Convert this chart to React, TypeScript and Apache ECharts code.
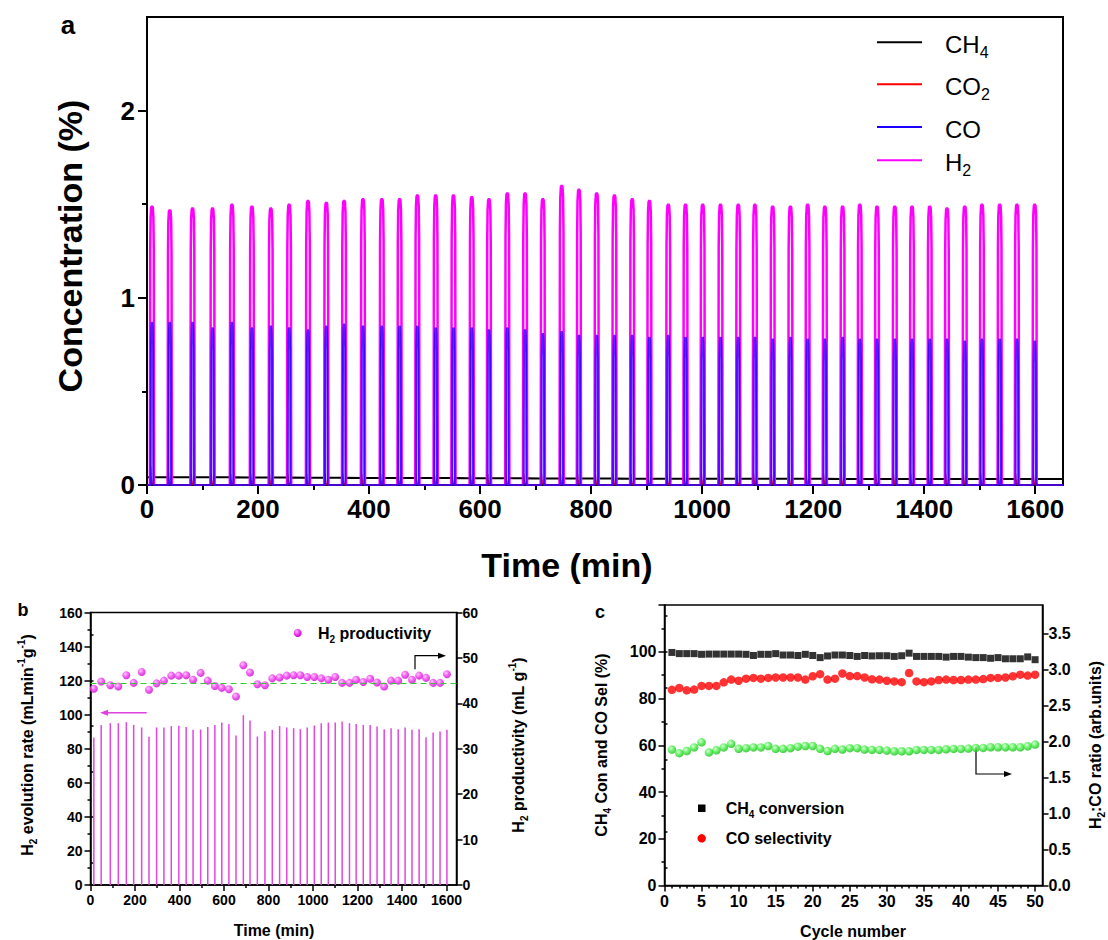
import React, { useEffect, useRef } from "react";
import * as echarts from "echarts";

const FONT = "Arial, 'Liberation Sans', Helvetica, sans-serif";

// ---------- panel a : concentration vs time ----------
const pulseTimes = [9, 41, 82, 118, 153, 189, 223, 256, 290, 323, 355, 389, 423, 455, 487, 520, 552, 585, 616, 649, 681, 713, 747, 778, 810, 842, 874, 905, 939, 970, 1001, 1033, 1065, 1095, 1127, 1159, 1190, 1221, 1253, 1284, 1315, 1347, 1378, 1410, 1441, 1473, 1504, 1536, 1567, 1599];
const h2Peaks = [1.49, 1.47, 1.48, 1.48, 1.5, 1.49, 1.48, 1.5, 1.52, 1.51, 1.52, 1.53, 1.53, 1.53, 1.55, 1.55, 1.55, 1.54, 1.53, 1.56, 1.56, 1.53, 1.6, 1.58, 1.56, 1.55, 1.53, 1.52, 1.5, 1.5, 1.5, 1.5, 1.5, 1.5, 1.49, 1.49, 1.5, 1.49, 1.49, 1.5, 1.49, 1.49, 1.49, 1.49, 1.48, 1.49, 1.5, 1.5, 1.5, 1.5];
const coPeaks = [0.87, 0.87, 0.87, 0.84, 0.87, 0.84, 0.85, 0.84, 0.83, 0.85, 0.86, 0.85, 0.85, 0.85, 0.85, 0.84, 0.84, 0.84, 0.83, 0.84, 0.83, 0.81, 0.82, 0.8, 0.8, 0.8, 0.8, 0.79, 0.8, 0.79, 0.79, 0.79, 0.79, 0.79, 0.78, 0.79, 0.78, 0.78, 0.79, 0.78, 0.78, 0.78, 0.78, 0.78, 0.78, 0.77, 0.78, 0.78, 0.78, 0.77];
const ch4Levels = [0.042, 0.042, 0.041, 0.041, 0.041, 0.04, 0.04, 0.04, 0.039, 0.039, 0.039, 0.038, 0.038, 0.038, 0.037, 0.037, 0.037, 0.036, 0.036, 0.036, 0.036, 0.035, 0.035, 0.035, 0.035, 0.035, 0.034, 0.034, 0.034, 0.034, 0.034, 0.033, 0.033, 0.033, 0.033, 0.033, 0.033, 0.033, 0.032, 0.032, 0.032, 0.032, 0.032, 0.032, 0.032, 0.032, 0.032, 0.032, 0.032, 0.032];
const co2Peaks = [0.1, 0.07, 0.06, 0.06, 0.06, 0.06, 0.06, 0.06, 0.06, 0.06, 0.06, 0.06, 0.06, 0.06, 0.06, 0.06, 0.06, 0.06, 0.06, 0.06, 0.06, 0.06, 0.06, 0.06, 0.06, 0.06, 0.06, 0.06, 0.06, 0.06, 0.06, 0.06, 0.06, 0.06, 0.06, 0.06, 0.06, 0.06, 0.06, 0.06, 0.06, 0.06, 0.06, 0.06, 0.06, 0.06, 0.06, 0.06, 0.06, 0.06];
// shape of one pulse (minutes from peak, fraction of peak)
const h2PulseOffsets = [-3.8, -3.2, -2.5, -1.5, 0, 1.5, 2.5, 3.2, 3.8];
const h2PulseShape = [0, 0.85, 0.96, 0.995, 1, 0.995, 0.96, 0.85, 0];
const coPulseOffsets = [-2.4, -1.9, -1.3, -0.7, 0, 0.7, 1.3, 1.9, 2.4];
const coPulseShape = [0, 0.85, 0.96, 0.995, 1, 0.995, 0.96, 0.85, 0];
const ch4DipOffsets = [-3.6, -2.9, 2.9, 3.6];
const ch4DipShape = [1, 0.15, 0.15, 1];
const co2Offsets = [-3.6, -3.0, -2.2, -1.0, 3.6];
const co2Shape = [0, 1, 0.5, 0.15, 0];
const timeTicks = [0, 200, 400, 600, 800, 1000, 1200, 1400, 1600];
const timeMinor = [100, 300, 500, 700, 900, 1100, 1300, 1500];
const concTicks = [0, 1, 2];
const concMinor = [0.5, 1.5];

// ---------- panel b : H2 evolution rate / productivity ----------
const cycleTimes = [15, 48, 89, 125, 161, 194, 230, 263, 297, 330, 363, 397, 430, 461, 495, 527, 559, 590, 622, 654, 687, 717, 750, 784, 817, 850, 882, 913, 943, 974, 1006, 1037, 1069, 1100, 1131, 1164, 1194, 1226, 1257, 1288, 1320, 1351, 1383, 1414, 1445, 1477, 1508, 1540, 1571, 1602];
const h2Rate = [86.6, 94.0, 95.0, 95.0, 95.6, 94.0, 92.5, 87.0, 92.5, 92.5, 93.3, 93.5, 92.7, 91.1, 91.3, 92.7, 94.0, 95.4, 94.4, 87.8, 99.7, 96.6, 87.2, 90.3, 91.1, 93.3, 92.5, 92.1, 91.5, 92.5, 93.6, 95.0, 95.4, 95.4, 96.0, 95.0, 94.6, 94.0, 94.0, 93.1, 91.5, 92.1, 91.5, 92.5, 91.1, 91.5, 86.8, 89.5, 90.1, 91.1];
const h2Productivity = [43.2, 44.8, 44.0, 43.7, 46.2, 44.5, 46.9, 43.0, 44.4, 45.0, 46.1, 46.1, 46.2, 45.2, 46.7, 45.0, 43.8, 43.4, 43.1, 41.5, 48.4, 46.8, 44.2, 44.0, 45.5, 45.7, 46.1, 46.2, 46.2, 45.8, 45.8, 45.5, 45.2, 45.8, 44.5, 44.5, 45.2, 44.7, 45.4, 44.6, 43.7, 45.0, 45.0, 46.3, 45.2, 46.1, 45.6, 44.5, 44.5, 46.4];
const productivityMean = 44.4;
const bTimeTicks = [0, 200, 400, 600, 800, 1000, 1200, 1400, 1600];
const bTimeMinor = [100, 300, 500, 700, 900, 1100, 1300, 1500];
const rateTicks = [0, 20, 40, 60, 80, 100, 120, 140, 160];
const rateMinor = [10, 30, 50, 70, 90, 110, 130, 150];
const prodTicks = [0, 10, 20, 30, 40, 50, 60];
const prodMinor = [5, 15, 25, 35, 45, 55];

// ---------- panel c : conversion / selectivity / ratio ----------
const cycles = [1, 2, 3, 4, 5, 6, 7, 8, 9, 10, 11, 12, 13, 14, 15, 16, 17, 18, 19, 20, 21, 22, 23, 24, 25, 26, 27, 28, 29, 30, 31, 32, 33, 34, 35, 36, 37, 38, 39, 40, 41, 42, 43, 44, 45, 46, 47, 48, 49, 50];
const ch4Conversion = [99.7, 99.2, 99.2, 99.2, 98.9, 99.0, 99.0, 99.0, 99.0, 99.0, 98.9, 98.4, 98.9, 98.9, 99.2, 98.6, 98.6, 98.4, 98.9, 98.4, 97.5, 98.2, 98.6, 98.6, 98.4, 98.0, 98.4, 98.2, 98.3, 98.3, 98.0, 98.3, 99.4, 98.0, 98.0, 98.0, 98.0, 97.7, 98.0, 98.0, 97.7, 97.5, 97.5, 97.2, 97.5, 97.0, 97.0, 97.0, 97.8, 96.6];
const coSelectivity = [83.7, 84.5, 83.5, 83.8, 85.4, 85.4, 85.4, 86.9, 88.1, 87.6, 88.5, 88.8, 88.5, 88.8, 89.0, 89.0, 89.0, 89.0, 88.1, 89.5, 90.4, 88.1, 88.5, 90.7, 89.6, 89.6, 89.0, 88.2, 88.1, 87.6, 87.3, 87.0, 90.9, 87.3, 87.0, 87.3, 87.9, 88.1, 87.9, 87.9, 88.1, 88.1, 88.3, 88.8, 88.8, 89.0, 89.5, 90.2, 89.8, 90.2];
const h2CoRatio = [1.89, 1.84, 1.87, 1.92, 1.99, 1.85, 1.88, 1.92, 1.97, 1.9, 1.91, 1.92, 1.92, 1.94, 1.9, 1.9, 1.91, 1.93, 1.94, 1.94, 1.9, 1.87, 1.9, 1.89, 1.91, 1.91, 1.89, 1.885, 1.885, 1.876, 1.866, 1.866, 1.866, 1.885, 1.885, 1.885, 1.885, 1.894, 1.899, 1.899, 1.904, 1.913, 1.913, 1.922, 1.922, 1.922, 1.922, 1.922, 1.936, 1.959];
const cycleTicks = [0, 5, 10, 15, 20, 25, 30, 35, 40, 45, 50];
const cycleMinor = [1, 2, 3, 4, 6, 7, 8, 9, 11, 12, 13, 14, 16, 17, 18, 19, 21, 22, 23, 24, 26, 27, 28, 29, 31, 32, 33, 34, 36, 37, 38, 39, 41, 42, 43, 44, 46, 47, 48, 49];
const pctTicks = [0, 20, 40, 60, 80, 100];
const pctMinor = [10, 30, 50, 70, 90, 110];
const ratioTicks = [0, 0.5, 1, 1.5, 2, 2.5, 3, 3.5];
const ratioMinor = [0.25, 0.75, 1.25, 1.75, 2.25, 2.75, 3.25, 3.75];

// ---------- builders ----------
type Pt = [number, number | string];
function pulses(times: number[], peaks: number[], offs: number[], shape: number[], gaps: boolean): Pt[] {
  const out: Pt[] = [];
  times.forEach((t, i) => {
    offs.forEach((o, k) => out.push([t + o, +(peaks[i] * shape[k]).toFixed(4)]));
    if (gaps) out.push([t + offs[offs.length - 1] + 0.2, "-"]);
  });
  return out;
}
function ch4Trace(): Pt[] {
  const out: Pt[] = [[0, ch4Levels[0]]];
  pulseTimes.forEach((t, i) => {
    ch4DipOffsets.forEach((o, k) => out.push([t + o, +(ch4Levels[i] * ch4DipShape[k]).toFixed(4)]));
  });
  out.push([1650, ch4Levels[ch4Levels.length - 1]]);
  return out;
}
function withEnds(pts: Pt[]): Pt[] {
  return [[0, 0], ...pts, [1650, 0]];
}

const plain = (v: number) => String(v);

function valueAxes(o: any) {
  const common = {
    type: "value",
    gridIndex: o.grid,
    position: o.position,
    min: o.min,
    max: o.max,
    splitLine: { show: false },
  };
  const main = {
    ...common,
    axisLine: { show: true, onZero: false, lineStyle: { color: "#000", width: o.lw } },
    axisTick: { show: true, customValues: o.major, length: o.majorLen, lineStyle: { color: "#000", width: o.lw } },
    axisLabel: {
      show: true,
      customValues: o.labels || o.major,
      fontSize: o.fs,
      fontWeight: "bold",
      fontFamily: FONT,
      color: "#000",
      margin: o.margin,
      formatter: o.fmt || plain,
    },
  };
  const minor = {
    ...common,
    axisLine: { show: false },
    axisTick: { show: true, customValues: o.minor, length: o.minorLen, lineStyle: { color: "#000", width: o.lw } },
    axisLabel: { show: false },
  };
  return [main, minor];
}

function ballGradient(light: string, mid: string, dark: string) {
  return new echarts.graphic.RadialGradient(0.38, 0.35, 0.7, [
    { offset: 0, color: light },
    { offset: 0.45, color: mid },
    { offset: 1, color: dark },
  ]);
}

function txt(text: string, x: number, y: number, fs: number, bold: boolean, extra: any = {}) {
  return {
    type: "text",
    x,
    y,
    rotation: extra.rotation || 0,
    style: {
      text,
      fill: extra.fill || "#000",
      fontSize: fs,
      fontWeight: bold ? "bold" : "normal",
      fontFamily: FONT,
      align: extra.align || "center",
      verticalAlign: "middle",
      rich: extra.rich,
    },
  };
}
function richSet(fs: number, bold: boolean) {
  const w = bold ? "bold" : "normal";
  const small = Math.round(fs * 0.65);
  return {
    n: { fontSize: fs, fontWeight: w, fontFamily: FONT, lineHeight: Math.round(fs * 1.35) },
    s: { fontSize: small, fontWeight: w, fontFamily: FONT, lineHeight: small, verticalAlign: "bottom" },
    p: { fontSize: small, fontWeight: w, fontFamily: FONT, lineHeight: small, verticalAlign: "top" },
  };
}

export default function App() {
  const ref = useRef<HTMLDivElement>(null);
  useEffect(() => {
    document.body.style.margin = "0";
    const chart = echarts.init(ref.current!, null, { renderer: "svg" });

    const [ax, axm] = valueAxes({ grid: 0, position: "bottom", min: 0, max: 1650, major: timeTicks, minor: timeMinor, lw: 2, majorLen: 9, minorLen: 5, fs: 26, margin: 11 });
    const [ay, aym] = valueAxes({ grid: 0, position: "left", min: 0, max: 2.5, major: concTicks, minor: concMinor, lw: 2, majorLen: 9, minorLen: 5, fs: 26, margin: 12 });
    const [bx, bxm] = valueAxes({ grid: 1, position: "bottom", min: 0, max: 1645, major: bTimeTicks, minor: bTimeMinor, lw: 1.5, majorLen: 6, minorLen: 3, fs: 14, margin: 8 });
    const [byl, byml] = valueAxes({ grid: 1, position: "left", min: 0, max: 160, major: rateTicks, minor: rateMinor, lw: 1.5, majorLen: 6, minorLen: 3, fs: 14, margin: 8 });
    const [byr, bymr] = valueAxes({ grid: 1, position: "right", min: 0, max: 60, major: prodTicks, minor: prodMinor, lw: 1.5, majorLen: 6, minorLen: 3, fs: 14, margin: 6 });
    const [cx, cxm] = valueAxes({ grid: 2, position: "bottom", min: 0, max: 51, major: cycleTicks, minor: cycleMinor, lw: 1.5, majorLen: 6, minorLen: 3, fs: 16, margin: 8 });
    const [cyl, cyml] = valueAxes({ grid: 2, position: "left", min: 0, max: 120, major: [...pctTicks, 120], labels: pctTicks, minor: pctMinor, lw: 1.5, majorLen: 6, minorLen: 3, fs: 16, margin: 8 });
    const [cyr, cymr] = valueAxes({ grid: 2, position: "right", min: 0, max: 3.9, major: ratioTicks, minor: ratioMinor, lw: 1.5, majorLen: 6, minorLen: 3, fs: 16, margin: 6, fmt: (v: number) => v.toFixed(1) });

    const rA = richSet(24, false);
    const rAT = richSet(34, true);
    const rB = richSet(16, true);
    const rC = richSet(16, true);

    const magenta = "#ff00ff";
    const pinkBall = () => ballGradient("#ffc0ff", "#f040f0", "#c800c8");
    const greenBall = () => ballGradient("#d0ffd0", "#4cf04c", "#14b814");
    const option: any = {
      animation: false,
      backgroundColor: "#ffffff",
      grid: [
        { left: 147, top: 17, width: 916, height: 468, show: true, borderColor: "#000", borderWidth: 2, backgroundColor: "transparent" },
        { left: 90.5, top: 612.5, width: 366, height: 272.5, show: true, borderColor: "#000", borderWidth: 1.5, backgroundColor: "transparent" },
        { left: 664.5, top: 605, width: 378, height: 280.5, show: true, borderColor: "#000", borderWidth: 1.5, backgroundColor: "transparent" },
      ],
      xAxis: [ax, axm, bx, bxm, cx, cxm],
      yAxis: [ay, aym, byl, byml, byr, bymr, cyl, cyml, cyr, cymr],
      series: [
        // panel a
        { name: "CH4", type: "line", xAxisIndex: 0, yAxisIndex: 0, data: ch4Trace(), showSymbol: false, symbol: "none", lineStyle: { color: "#000", width: 2 } },
        { name: "CO2", type: "line", xAxisIndex: 0, yAxisIndex: 0, data: withEnds(pulses(pulseTimes, co2Peaks, co2Offsets, co2Shape, false)), showSymbol: false, symbol: "none", lineStyle: { color: "#ff0000", width: 2 } },
        { name: "H2", type: "line", xAxisIndex: 0, yAxisIndex: 0, data: pulses(pulseTimes, h2Peaks, h2PulseOffsets, h2PulseShape, true), showSymbol: false, symbol: "none", connectNulls: false, lineStyle: { color: magenta, width: 2.5 } },
        { name: "CO", type: "line", xAxisIndex: 0, yAxisIndex: 0, data: withEnds(pulses(pulseTimes, coPeaks, coPulseOffsets, coPulseShape, false)), showSymbol: false, symbol: "none", lineStyle: { color: "#1a00ff", width: 2, opacity: 0.8 } },
        // panel b
        { name: "H2 evolution rate", type: "bar", xAxisIndex: 2, yAxisIndex: 2, data: cycleTimes.map((t, i) => [t, h2Rate[i]]), barWidth: 1.5, itemStyle: { color: "#e246e2" } },
        {
          name: "H2 productivity", type: "scatter", xAxisIndex: 2, yAxisIndex: 4, data: cycleTimes.map((t, i) => [t, h2Productivity[i]]), symbol: "circle", symbolSize: 8,
          itemStyle: { color: pinkBall() },
          markLine: { silent: true, symbol: "none", label: { show: false }, lineStyle: { color: "#33cc33", type: [6, 4], width: 1.2 }, data: [{ yAxis: productivityMean }] },
        },
        // panel c
        { name: "CH4 conversion", type: "scatter", xAxisIndex: 4, yAxisIndex: 6, data: cycles.map((c, i) => [c, ch4Conversion[i]]), symbol: "rect", symbolSize: 7, itemStyle: { color: "#000" } },
        { name: "CO selectivity", type: "scatter", xAxisIndex: 4, yAxisIndex: 6, data: cycles.map((c, i) => [c, coSelectivity[i]]), symbol: "circle", symbolSize: 8.5, itemStyle: { color: "#ff0000" } },
        { name: "H2:CO ratio", type: "scatter", xAxisIndex: 4, yAxisIndex: 8, data: cycles.map((c, i) => [c, h2CoRatio[i]]), symbol: "circle", symbolSize: 8.5, itemStyle: { color: greenBall() } },
      ],
      graphic: [
        // panel a labels
        txt("a", 68, 25, 26, true),
        txt("{n|Concentration (%)}", 70, 246, 34, true, { rotation: Math.PI / 2, rich: rAT }),
        txt("{n|Time (min)}", 567, 565, 34, true, { rich: rAT }),
        // panel a legend
        { type: "line", shape: { x1: 877, y1: 42.3, x2: 922, y2: 42.3 }, style: { stroke: "#000", lineWidth: 2 } },
        { type: "line", shape: { x1: 877, y1: 84.3, x2: 922, y2: 84.3 }, style: { stroke: "#ff0000", lineWidth: 2 } },
        { type: "line", shape: { x1: 877, y1: 127, x2: 922, y2: 127 }, style: { stroke: "#1a00ff", lineWidth: 2 } },
        { type: "line", shape: { x1: 877, y1: 160.3, x2: 922, y2: 160.3 }, style: { stroke: magenta, lineWidth: 2 } },
        txt("{n|CH}{s|4}", 945, 44, 24, false, { align: "left", rich: rA }),
        txt("{n|CO}{s|2}", 945, 86, 24, false, { align: "left", rich: rA }),
        txt("{n|CO}", 945, 129, 24, false, { align: "left", rich: rA }),
        txt("{n|H}{s|2}", 945, 162, 24, false, { align: "left", rich: rA }),
        // panel b labels
        txt("b", 23, 610, 18, true),
        txt("{n|H}{s|2}{n| evolution rate (mLmin}{p|-1}{n|g}{p|-1}{n|)}", 27, 745, 16, true, { rotation: Math.PI / 2, rich: rB }),
        txt("{n|H}{s|2}{n| productivity (mL g}{p|-1}{n|)}", 518, 745, 16, true, { rotation: Math.PI / 2, rich: rB }),
        txt("{n|Time (min)}", 274, 930, 16, true, { rich: rB }),
        { type: "circle", shape: { cx: 297.7, cy: 633, r: 4 }, style: { fill: pinkBall() } },
        txt("{n|H}{s|2}{n| productivity}", 318, 633, 16, true, { align: "left", rich: rC }),
        { type: "polyline", shape: { points: [[146.7, 712.7], [104, 712.7]] }, style: { stroke: "#e040e0", lineWidth: 1.5, fill: null } },
        { type: "polygon", shape: { points: [[100, 712.7], [108, 709.7], [108, 715.7]] }, style: { fill: "#e040e0" } },
        { type: "polyline", shape: { points: [[415, 669.3], [415, 655.7], [441, 655.7]] }, style: { stroke: "#000", lineWidth: 1.2, fill: null } },
        { type: "polygon", shape: { points: [[446, 655.7], [438, 652.7], [438, 658.7]] }, style: { fill: "#000" } },
        // panel c labels
        txt("c", 600, 612, 18, true),
        txt("{n|CH}{s|4}{n| Con and CO Sel (%)}", 601, 745, 16, true, { rotation: Math.PI / 2, rich: rC }),
        txt("{n|H}{s|2}{n|:CO ratio (arb.units)}", 1095, 745, 16, true, { rotation: Math.PI / 2, rich: rC }),
        txt("{n|Cycle number}", 853, 931, 16, true, { rich: rC }),
        { type: "rect", shape: { x: 698, y: 804.5, width: 7.5, height: 7.5 }, style: { fill: "#000" } },
        txt("{n|CH}{s|4}{n| conversion}", 725.7, 808, 16, true, { align: "left", rich: rC }),
        { type: "circle", shape: { cx: 701.7, cy: 838.3, r: 4.2 }, style: { fill: "#ff0000" } },
        txt("{n|CO selectivity}", 725.7, 838.3, 16, true, { align: "left", rich: rC }),
        { type: "polyline", shape: { points: [[976, 746.7], [976, 774], [1007, 774]] }, style: { stroke: "#000", lineWidth: 1.2, fill: null } },
        { type: "polygon", shape: { points: [[1012, 774], [1004, 771], [1004, 777]] }, style: { fill: "#000" } },
      ],
    };
    chart.setOption(option);
    return () => chart.dispose();
  }, []);
  return <div ref={ref} style={{ position: "fixed", left: 0, top: 0, width: 1108, height: 940, background: "#fff" }} />;
}
